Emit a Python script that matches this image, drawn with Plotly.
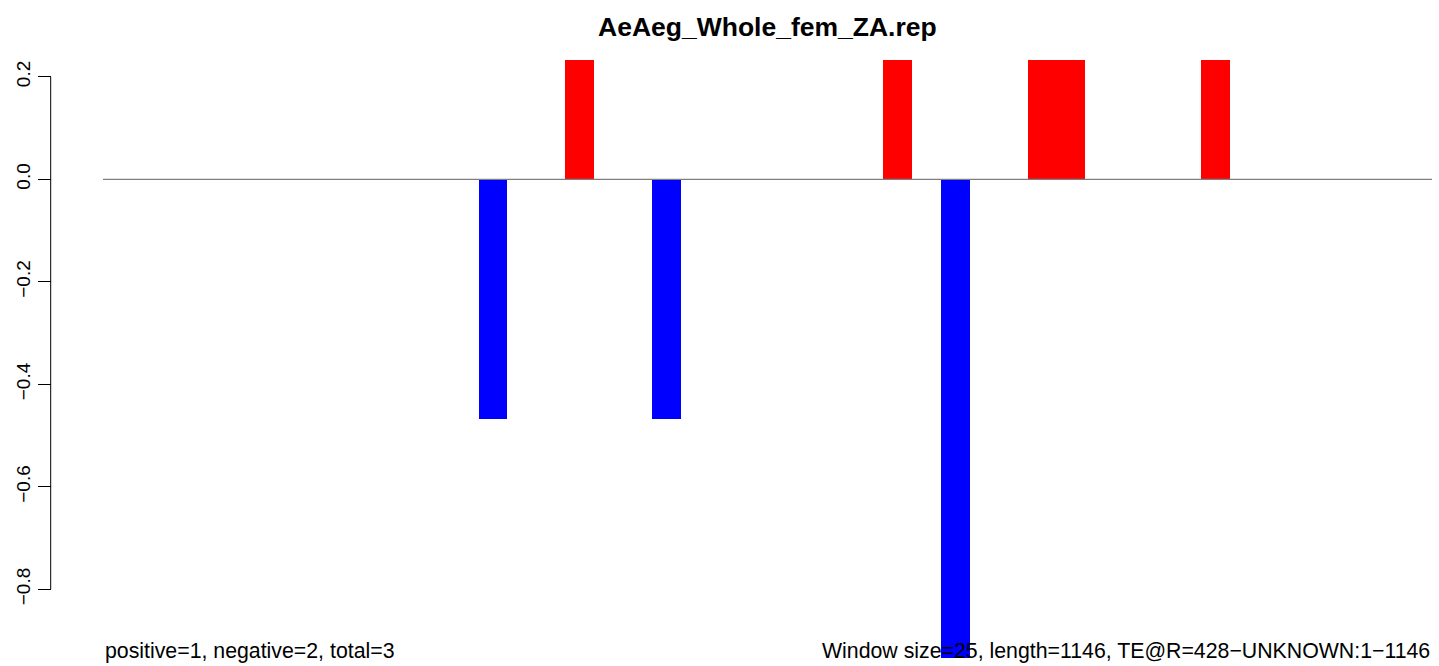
import plotly.graph_objects as go

# window bins (46 windows of 25 bp over length 1146)
n_bins = 46
bin_index = list(range(n_bins))
# signed scores per window, zero elsewhere
bin_values = [0.0] * n_bins
hit_bins = [13, 16, 19, 27, 29, 32, 33, 38]
hit_values = [-0.467, 0.233, -0.467, 0.233, -0.934, 0.233, 0.233, 0.233]
for b, v in zip(hit_bins, hit_values):
    bin_values[b] = v

ytick_vals = [0.2, 0.0, -0.2, -0.4, -0.6, -0.8]
ytick_text = ["0.2", "0.0", "\u22120.2", "\u22120.4", "\u22120.6", "\u22120.8"]

title_text = "AeAeg_Whole_fem_ZA.rep"
left_note = "positive=1, negative=2, total=3"
right_note = "Window size=25, length=1146, TE@R=428\u2212UNKNOWN:1\u22121146"

W, H = 1439, 666
FONT = "Liberation Sans, Arial, Helvetica, sans-serif"

colors = ["red" if v > 0 else "blue" for v in bin_values]

fig = go.Figure(go.Bar(
    x=[i + 0.5 for i in bin_index],
    y=bin_values,
    width=1,
    marker=dict(color=colors, line=dict(width=0)),
    hoverinfo="skip",
))

# y scale: 0 at 179.3px, 512.5 px per unit
y0_px, ppu = 179.3, 512.5
fig.update_layout(
    width=W, height=H,
    margin=dict(l=0, r=0, t=0, b=0),
    plot_bgcolor="white", paper_bgcolor="white",
    showlegend=False,
    bargap=0,
    font=dict(family=FONT, color="black"),
    xaxis=dict(domain=[103 / W, 1432 / W], range=[0, n_bins], visible=False),
    yaxis=dict(
        domain=[0, 1],
        range=[-(H - y0_px) / ppu, y0_px / ppu],
        anchor="free", position=50.7 / W,
        showline=False, showgrid=False, zeroline=False,
        ticks="outside", ticklen=13, tickwidth=1, tickcolor="black",
        tickvals=ytick_vals, ticktext=ytick_text,
        tickangle=-90, tickfont=dict(size=19, family=FONT, color="black"),
    ),
)

fig.add_shape(type="line", xref="paper", yref="y",
              x0=50.7 / W, x1=50.7 / W, y0=-0.8, y1=0.2,
              line=dict(color="black", width=1))
fig.add_shape(type="line", xref="x", yref="y",
              x0=0, x1=n_bins, y0=0, y1=0,
              line=dict(color="#7f7f7f", width=1.3))

fig.add_annotation(text="<b>" + title_text + "</b>", xref="paper", yref="paper",
                   x=767.5 / W, y=1 - 27 / H, xanchor="center", yanchor="middle",
                   showarrow=False, font=dict(size=26.5, family=FONT, color="black"))
fig.add_annotation(text=left_note, xref="paper", yref="paper",
                   x=103 / W, y=1 - 650.6 / H, xanchor="left", yanchor="middle",
                   showarrow=False, font=dict(size=21.3, family=FONT, color="black"))
fig.add_annotation(text=right_note, xref="paper", yref="paper",
                   x=1432 / W, y=1 - 650.6 / H, xanchor="right", yanchor="middle",
                   showarrow=False, font=dict(size=21.3, family=FONT, color="black"))

fig.write_html("out.html", config={"displayModeBar": False},
               post_script="document.body.style.margin='0';")
